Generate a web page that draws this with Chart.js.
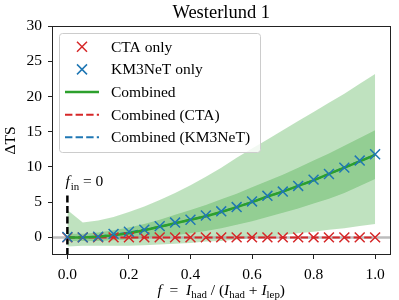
<!DOCTYPE html>
<html>
<head>
<meta charset="utf-8">
<script src="https://cdn.jsdelivr.net/npm/chart.js@4.4.0/dist/chart.umd.min.js"></script>
<style>
  html, body { margin: 0; padding: 0; background: #fff; }
  canvas { display: block; }
</style>
</head>
<body>
<canvas id="myChart" width="399" height="300"></canvas>
<script>
'use strict';

// hadronic fraction f, one point every 0.05
const fVals = [0, 0.05, 0.1, 0.15, 0.2, 0.25, 0.3, 0.35, 0.4, 0.45, 0.5,
  0.55, 0.6, 0.65, 0.7, 0.75, 0.8, 0.85, 0.9, 0.95, 1.0];

// delta TS
const ctaOnly = [0, 0, 0, 0, 0, 0, 0, 0, 0, 0, 0, 0, 0, 0, 0, 0, 0, 0, 0, 0, 0];
const km3Only = [0.05, 0.0, 0.1, 0.5, 0.8, 1.1, 1.6, 2.1, 2.5, 3.1, 3.7,
  4.3, 5.1, 5.9, 6.5, 7.3, 8.2, 9.0, 9.9, 10.9, 11.8];
const combined = [0, 0, 0.1, 0.3, 0.6, 1.0, 1.5, 2.0, 2.5, 3.0, 3.6,
  4.3, 5.0, 5.8, 6.5, 7.3, 8.1, 9.0, 9.9, 10.8, 11.7];
const combinedCta = [0, 0, 0, 0, 0, 0, 0, 0, 0, 0, 0, 0, 0, 0, 0, 0, 0, 0, 0, 0, 0];
const combinedKm3 = [0.05, 0.0, 0.1, 0.4, 0.7, 1.1, 1.5, 2.0, 2.5, 3.0, 3.6,
  4.3, 5.0, 5.8, 6.5, 7.3, 8.1, 9.0, 9.9, 10.8, 11.7];

// uncertainty bands of the combined fit
const band1Lo = [-0.5, -0.5, -0.5, -0.4, -0.3, -0.1, 0.1, 0.3, 0.6, 0.9, 1.3,
  1.8, 2.3, 2.9, 3.5, 4.1, 4.8, 5.5, 6.3, 7.3, 8.3];
const band1Hi = [0.5, 0.5, 0.7, 1.0, 1.4, 1.9, 2.5, 3.2, 3.9, 4.6, 5.4,
  6.2, 7.1, 8.0, 8.9, 9.9, 10.9, 11.9, 13.0, 14.1, 15.2];
const band2Lo = [-1.3, -1.2, -1.2, -1.2, -1.2, -1.1, -1.0, -0.9, -0.8, -0.6, -0.5,
  -0.3, -0.1, 0.1, 0.3, 0.6, 0.8, 1.1, 1.3, 1.6, 1.9];
const band2Hi = [3.9, 2.1, 2.4, 2.9, 3.6, 4.4, 5.3, 6.3, 7.4, 8.6, 9.9,
  11.3, 12.6, 13.9, 15.2, 16.5, 17.8, 19.1, 20.4, 21.8, 23.2];

const xTicks = [0, 0.2, 0.4, 0.6, 0.8, 1.0];
const yTicks = [0, 5, 10, 15, 20, 25, 30];
const xMin = -0.05, xMax = 1.05, yMin = -2.5, yMax = 30;
const fIn = 0, fInTop = 6;

const RED = '#d62728';
const BLUE = '#1f77b4';
const GREEN = '#2ca02c';
const BAND = 'rgba(44, 160, 44, 0.3)';
const SERIF = '"Liberation Serif", "Times New Roman", serif';

function pts(arr) {
  return fVals.map((f, i) => ({ x: f, y: arr[i] }));
}

// draw a run of text pieces (italic, subscripts) centered on cx
function drawMath(ctx, pieces, cx, baseline, size) {
  let widths = pieces.map(p => {
    ctx.font = `${p.italic ? 'italic ' : ''}${p.sub ? size * 0.7 : size}px ${SERIF}`;
    return ctx.measureText(p.t).width;
  });
  let total = widths.reduce((a, b) => a + b, 0);
  let x = cx - total / 2;
  ctx.textAlign = 'left';
  ctx.textBaseline = 'alphabetic';
  pieces.forEach((p, i) => {
    ctx.font = `${p.italic ? 'italic ' : ''}${p.sub ? size * 0.7 : size}px ${SERIF}`;
    ctx.fillText(p.t, x, baseline + (p.sub ? size * 0.22 : 0));
    x += widths[i];
  });
}

const decorations = {
  id: 'decorations',
  afterDraw(chart) {
    const ctx = chart.ctx;
    const area = chart.chartArea;
    const xs = chart.scales.x;
    const ys = chart.scales.y;
    ctx.save();

    // frame
    ctx.strokeStyle = '#222';
    ctx.lineWidth = 1;
    ctx.strokeRect(Math.round(area.left) + 0.5, Math.round(area.top) + 0.5,
      Math.round(area.right - area.left) - 1, Math.round(area.bottom - area.top) - 1);

    ctx.fillStyle = '#000';
    // title
    ctx.font = `18.5px ${SERIF}`;
    ctx.textAlign = 'center';
    ctx.textBaseline = 'alphabetic';
    ctx.fillText('Westerlund 1', (area.left + area.right) / 2, 18);

    // y label
    ctx.save();
    ctx.translate(15, (area.top + area.bottom) / 2);
    ctx.rotate(-Math.PI / 2);
    ctx.font = `15.5px ${SERIF}`;
    ctx.textAlign = 'center';
    ctx.fillText('\u0394TS', 0, 0);
    ctx.restore();

    // x label
    drawMath(ctx, [
      { t: 'f', italic: true },
      { t: '  =  ' },
      { t: 'I', italic: true },
      { t: 'had', sub: true },
      { t: ' / (' },
      { t: 'I', italic: true },
      { t: 'had', sub: true },
      { t: ' + ' },
      { t: 'I', italic: true },
      { t: 'lep', sub: true },
      { t: ')' }
    ], (area.left + area.right) / 2, 295, 15.5);

    // f_in annotation
    let ax = xs.getPixelForValue(fIn) - 2;
    let ay = ys.getPixelForValue(fInTop) - 9;
    ctx.textAlign = 'left';
    ctx.font = `italic 15.5px ${SERIF}`;
    ctx.fillText('f', ax, ay);
    let w = ctx.measureText('f').width;
    ctx.font = `${15.5 * 0.7}px ${SERIF}`;
    ctx.fillText('in', ax + w + 1, ay + 3.5);
    w += 1 + ctx.measureText('in').width;
    ctx.font = `15.5px ${SERIF}`;
    ctx.fillText(' = 0', ax + w, ay);

    // legend
    let lx = 59.5, ly = 33.5, lw = 201, lh = 119;
    ctx.beginPath();
    ctx.roundRect(lx, ly, lw, lh, 3);
    ctx.fillStyle = 'rgba(255,255,255,0.8)';
    ctx.fill();
    ctx.strokeStyle = '#cccccc';
    ctx.lineWidth = 1;
    ctx.stroke();

    const entries = [
      { label: 'CTA only', color: RED, kind: 'x' },
      { label: 'KM3NeT only', color: BLUE, kind: 'x' },
      { label: 'Combined', color: GREEN, kind: 'solid' },
      { label: 'Combined (CTA)', color: RED, kind: 'dash' },
      { label: 'Combined (KM3NeT)', color: BLUE, kind: 'dash' }
    ];
    entries.forEach((e, i) => {
      let y = 46.7 + i * 22.65;
      ctx.strokeStyle = e.color;
      if (e.kind === 'x') {
        ctx.lineWidth = 1.5;
        ctx.setLineDash([]);
        ctx.beginPath();
        ctx.moveTo(77, y - 5); ctx.lineTo(87, y + 5);
        ctx.moveTo(77, y + 5); ctx.lineTo(87, y - 5);
        ctx.stroke();
      } else {
        ctx.lineWidth = e.kind === 'solid' ? 2.5 : 2;
        ctx.setLineDash(e.kind === 'dash' ? [7.4, 3.2] : []);
        ctx.beginPath();
        ctx.moveTo(65, y); ctx.lineTo(99, y);
        ctx.stroke();
      }
      ctx.setLineDash([]);
      ctx.fillStyle = '#000';
      ctx.font = `15.5px ${SERIF}`;
      ctx.textAlign = 'left';
      ctx.textBaseline = 'middle';
      ctx.fillText(e.label, 111, y + 1);
    });
    ctx.restore();
  }
};

const crossStyle = (color, order, data) => ({
  data: pts(data),
  showLine: false,
  pointStyle: 'crossRot',
  pointRadius: 7,
  pointBorderWidth: 1.5,
  borderColor: color,
  backgroundColor: color,
  order: order
});

const lineStyle = (color, order, data, width, dash) => ({
  data: pts(data),
  showLine: true,
  borderColor: color,
  borderWidth: width,
  borderDash: dash,
  pointRadius: 0,
  tension: 0,
  fill: false,
  order: order
});

const bandStyle = (data, order, target) => ({
  data: pts(data),
  showLine: true,
  borderWidth: 0,
  borderColor: 'rgba(0,0,0,0)',
  pointRadius: 0,
  tension: 0,
  backgroundColor: BAND,
  fill: target === undefined ? false : target,
  order: order
});

let ctx = document.getElementById('myChart');
let myChart = new Chart(ctx, {
  type: 'scatter',
  data: {
    datasets: [
      crossStyle(BLUE, 1, km3Only),                  // 0
      crossStyle(RED, 2, ctaOnly),                   // 1
      lineStyle(GREEN, 3, combined, 2.5, []),        // 2
      lineStyle(RED, 4, combinedCta, 2, [7.4, 3.2]), // 3
      lineStyle(BLUE, 5, combinedKm3, 2, [7.4, 3.2]),// 4
      {                                              // 5 zero line
        data: [{ x: xMin, y: 0 }, { x: xMax, y: 0 }],
        showLine: true, borderColor: 'rgba(160,160,160,0.7)', borderWidth: 2.5,
        pointRadius: 0, order: 6
      },
      {                                              // 6 f_in marker
        data: [{ x: fIn, y: yMin }, { x: fIn, y: fInTop }],
        showLine: true, borderColor: '#000', borderWidth: 2.5, borderDash: [7, 3.5],
        pointRadius: 0, order: 2.5
      },
      bandStyle(band1Hi, 7, 8),                      // 7
      bandStyle(band1Lo, 8),                         // 8
      bandStyle(band2Hi, 9, 10),                     // 9
      bandStyle(band2Lo, 10)                         // 10
    ]
  },
  options: {
    responsive: false,
    animation: false,
    devicePixelRatio: 1,
    layout: { padding: { left: 0, right: 4, top: 26, bottom: 0 } },
    plugins: {
      legend: { display: false },
      title: { display: false },
      tooltip: { enabled: false }
    },
    scales: {
      x: {
        type: 'linear',
        min: xMin,
        max: xMax,
        afterBuildTicks: scale => { scale.ticks = xTicks.map(v => ({ value: v })); },
        afterFit: scale => { scale.height = 45; },
        ticks: {
          color: '#000',
          padding: 7,
          maxRotation: 0,
          autoSkip: false,
          font: { family: SERIF, size: 15.5 },
          callback: v => v.toFixed(1)
        },
        grid: { drawOnChartArea: false, drawTicks: true, tickLength: 4, color: '#222', lineWidth: 1 },
        border: { display: false }
      },
      y: {
        type: 'linear',
        min: yMin,
        max: yMax,
        afterBuildTicks: scale => { scale.ticks = yTicks.map(v => ({ value: v })); },
        afterFit: scale => { scale.width = 52; },
        ticks: {
          color: '#000',
          padding: 6,
          autoSkip: false,
          font: { family: SERIF, size: 15.5 },
          callback: v => String(v)
        },
        grid: { drawOnChartArea: false, drawTicks: true, tickLength: 4, color: '#222', lineWidth: 1 },
        border: { display: false }
      }
    }
  },
  plugins: [decorations]
});
</script>
</body>
</html>
